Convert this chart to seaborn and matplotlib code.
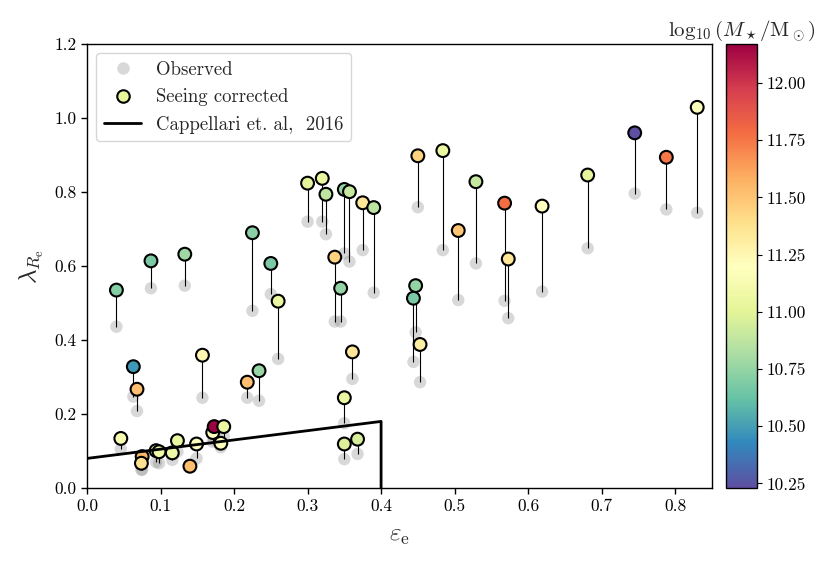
import numpy as np
import pandas as pd
import matplotlib
matplotlib.use('Agg')
import matplotlib.pyplot as plt
import seaborn as sns
from matplotlib.lines import Line2D

sns.set_style('ticks')
plt.rcParams['font.family'] = 'serif'
plt.rcParams['font.serif'] = ['cmr10', 'DejaVu Serif']
plt.rcParams['mathtext.fontset'] = 'cm'
plt.rcParams['axes.formatter.use_mathtext'] = True
plt.rcParams['axes.edgecolor'] = 'black'
plt.rcParams['xtick.color'] = 'black'
plt.rcParams['ytick.color'] = 'black'

# ellipticity (same for observed and corrected)
eps = [0.040, 0.087, 0.133, 0.225, 0.250, 0.260, 0.300, 0.320, 0.325, 0.350,
       0.357, 0.375, 0.390, 0.337, 0.345, 0.361, 0.350, 0.350, 0.368, 0.063,
       0.068, 0.157, 0.218, 0.234, 0.046, 0.075, 0.074, 0.094, 0.098, 0.116,
       0.123, 0.140, 0.149, 0.171, 0.173, 0.186, 0.182, 0.450, 0.484, 0.505,
       0.529, 0.568, 0.573, 0.619, 0.681, 0.745, 0.788, 0.830, 0.447, 0.444,
       0.453]
lam_obs = [0.436, 0.540, 0.547, 0.479, 0.524, 0.349, 0.720, 0.720, 0.686, 0.634,
           0.612, 0.643, 0.528, 0.450, 0.450, 0.295, 0.175, 0.078, 0.092, 0.247,
           0.208, 0.244, 0.244, 0.236, 0.105, 0.050, 0.049, 0.070, 0.067, 0.076,
           0.098, 0.055, 0.080, 0.125, 0.130, 0.139, 0.110, 0.759, 0.643, 0.508,
           0.607, 0.506, 0.459, 0.531, 0.648, 0.796, 0.753, 0.744, 0.421, 0.341,
           0.286]
lam_corr = [0.535, 0.614, 0.632, 0.690, 0.607, 0.505, 0.824, 0.837, 0.794, 0.807,
            0.801, 0.771, 0.758, 0.624, 0.540, 0.368, 0.244, 0.119, 0.132, 0.328,
            0.267, 0.359, 0.286, 0.317, 0.134, 0.085, 0.067, 0.101, 0.098, 0.095,
            0.128, 0.059, 0.119, 0.150, 0.166, 0.166, 0.121, 0.898, 0.912, 0.696,
            0.828, 0.770, 0.619, 0.762, 0.846, 0.960, 0.894, 1.029, 0.547, 0.513,
            0.388]
log_mass = [10.70, 10.68, 10.78, 10.72, 10.68, 11.05, 11.00, 11.05, 10.88, 10.75,
            10.90, 11.35, 10.87, 11.45, 10.75, 11.35, 11.05, 10.98, 10.95, 10.48,
            11.52, 11.25, 11.52, 10.76, 11.12, 11.55, 11.38, 11.05, 11.08, 11.08,
            11.05, 11.52, 11.18, 11.20, 12.17, 11.05, 11.20, 11.45, 11.05, 11.50,
            10.90, 11.78, 11.35, 11.20, 11.02, 10.23, 11.75, 11.18, 10.75, 10.68,
            11.30]

# Cappellari et al. 2016 boundary
capp_eps = [0.0, 0.4, 0.4]
capp_lam = [0.08, 0.18, 0.0]
cbar_ticks = [10.25, 10.50, 10.75, 11.00, 11.25, 11.50, 11.75, 12.00]

df = pd.DataFrame({'eps': eps, 'obs': lam_obs, 'corr': lam_corr, 'mass': log_mass})
vmin, vmax = df['mass'].min(), df['mass'].max()
cmap = plt.get_cmap('Spectral_r')
norm = plt.Normalize(vmin, vmax)

fig = plt.figure(figsize=(8.31, 5.67), dpi=100)
ax = fig.add_axes([0.1047, 0.1393, 0.752, 0.783])
cax = fig.add_axes([0.8736, 0.1393, 0.0373, 0.783])

sns.scatterplot(data=df, x='eps', y='obs', color='gray', alpha=0.3, s=80,
                edgecolor='none', ax=ax, legend=False, zorder=2)
ax.vlines(df['eps'], df['obs'], df['corr'], color='black', linewidth=0.8, zorder=3)
sns.scatterplot(data=df, x='eps', y='corr', hue='mass', palette='Spectral_r',
                hue_norm=norm, s=85, edgecolor='black', linewidth=1.5,
                ax=ax, legend=False, zorder=4)
ax.plot(capp_eps, capp_lam, color='black', linewidth=2, zorder=5)

ax.set_xlim(0, 0.85)
ax.set_ylim(0, 1.2)
ax.set_xticks(np.arange(0, 0.81, 0.1))
ax.set_yticks(np.arange(0, 1.21, 0.2))
ax.xaxis.set_major_formatter(matplotlib.ticker.FormatStrFormatter('%.1f'))
ax.yaxis.set_major_formatter(matplotlib.ticker.FormatStrFormatter('%.1f'))
ax.tick_params(labelsize=12.5, direction='out', length=4, width=1)
for sp in ax.spines.values():
    sp.set_linewidth(1.0)
ax.set_xlabel(r'$\varepsilon_\mathrm{e}$', fontsize=18, labelpad=8)
ax.set_ylabel(r'$\lambda_{R_\mathrm{e}}$', fontsize=18, labelpad=6)

handles = [
    Line2D([], [], marker='o', linestyle='none', color='gray', alpha=0.3,
           markersize=9, markeredgecolor='none', label='Observed'),
    Line2D([], [], marker='o', linestyle='none', markerfacecolor=cmap(norm(11.02)),
           markeredgecolor='black', markeredgewidth=1.5, markersize=9,
           label='Seeing corrected'),
    Line2D([], [], color='black', linewidth=2, label=r'Cappellari et. al,  2016'),
]
ax.legend(handles=handles, loc='upper left', fontsize=13.5, frameon=True)

sm = matplotlib.cm.ScalarMappable(norm=norm, cmap=cmap)
cb = fig.colorbar(sm, cax=cax)
cb.set_ticks(cbar_ticks)
cb.ax.yaxis.set_major_formatter(matplotlib.ticker.FormatStrFormatter('%.2f'))
cb.ax.tick_params(labelsize=12.5)
cb.outline.set_linewidth(1.0)
cax.set_title(r'$\log_{10}(M_\star/\mathrm{M}_\odot)$', fontsize=15, pad=6)

fig.savefig('out.png', dpi=100)
